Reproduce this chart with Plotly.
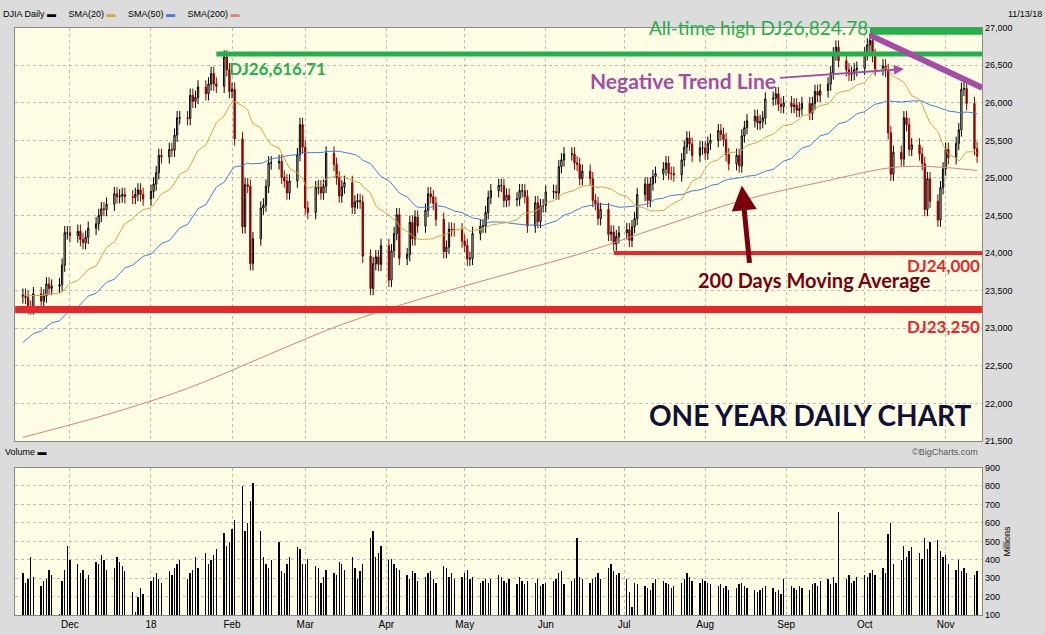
import pandas as pd, numpy as np
import plotly.graph_objects as go

pre = [21950,21990,21750,21800,21780,21800,22050,22120,22160,22200,22270,22330,22370,22410,22350,22300,22340,22380,22400,22420,
       22550,22640,22660,22770,22830,22870,22780,22840,22870,22960,22950,23160,23330,23270,23440,23400,23330,23380,23440,23350,
       23450,23520,23550,23430,23540,23570,23560,23460,23420,23420]
c_nov17 = [23440,23410,23280,23270,23460,23360,23430,23590,23530,23560,23580,23840,24270,24270]
c_dec = [24230,24290,24180,24140,24210,24330,24390,24500,24590,24580,24650,24790,24750,24760,24780,24750,24740,24780,24840,24780,24720]
c_jan = [24820,24920,25070,25300,25280,25380,25370,25570,25800,25800,25790,26100,26020,26070,26210,26120,26250,26390,26250,26220,26610,26440,26150]
c_feb = [26180,25520,24350,24910,24890,23860,24190,24600,24640,24890,25200,25200,25220,25010,24960,24800,24960,25310,25710,25410]
c_mar = [24600,24540,24870,24880,24800,24890,25330,25180,25000,24760,24880,24940,24610,24680,24700,24680,23960,23530,23860,23950,23850,24100]
c_apr = [23640,24030,24260,24510,23930,23980,24410,24190,24480,24360,24570,24790,24750,24660,24450,24020,24080,24320,24310,24310,24160]
c_may = [24100,23920,23930,24260,24360,24360,24540,24740,24830,24900,24900,24700,24770,24710,24720,24830,24830,24750,24360,24670,24420,24630,24630]
c_jun = [24810,24820,24800,25150,25240,25320,25320,25200,25180,24990,25090,24990,24700,24660,24460,24580,24250,24280,24120,24220,24270]
c_jul = [24310,24170,24350,24460,24780,24920,24700,24920,25020,25060,25120,25200,25060,25060,25040,25240,25410,25530,25450,25300,25400,25400]
c_aug = [25330,25460,25500,25630,25580,25510,25310,25190,25300,25160,25560,25670,25760,25820,25730,25750,25800,26050,26060,26120,25980,25950,26000]
c_sep = [25950,25970,25900,25920,25990,25860,25990,26150,26100,26160,26250,26400,26650,26740,26560,26440,26380,26390,26440,26460]
c_oct = [26650,26770,26830,26630,26450,26490,26430,25600,25050,25340,25250,25800,25710,25380,25440,25320,25190,24580,24990,24690,24440,24870,25120]
c_nov18 = [25380,25270,25460,25640,26180,26190,25990,25390,25290]

vol = [330,280,300,420,310,260,290,300,350,320,110,290,350,480,
       400,380,330,350,300,320,390,380,430,400,350,360,420,390,370,340,230,120,200,250,220,
       290,310,330,300,280,340,320,360,380,400,300,330,350,420,360,440,380,400,430,460,550,480,500,
       570,620,800,560,600,720,820,560,420,380,360,400,500,340,330,380,420,470,460,380,
       380,410,370,360,280,310,350,330,320,390,380,350,420,360,300,340,380,520,560,420,440,480,
       400,410,380,360,350,320,300,340,330,290,310,330,340,300,280,370,360,310,330,300,310,
       330,350,300,310,280,290,300,280,300,320,310,290,280,300,270,310,290,270,290,280,300,260,270,
       280,290,300,330,340,270,290,300,520,310,300,280,300,310,330,300,360,380,340,320,330,
       300,230,150,280,270,260,250,240,280,300,290,280,270,250,260,280,300,330,310,290,280,300,
       290,280,270,260,270,250,260,240,250,270,280,260,250,240,230,240,250,260,250,230,240,220,300,
       260,250,240,260,250,240,270,280,260,290,300,270,310,280,660,300,320,280,290,310,
       320,310,330,350,320,360,330,540,600,380,400,480,420,450,470,440,410,520,460,500,510,450,420,
       430,380,350,400,340,360,330,320,340]

sma200_dates = ["2017-11-13","2017-12-15","2018-01-15","2018-02-15","2018-03-15","2018-04-15","2018-05-15","2018-06-15","2018-07-15","2018-08-15","2018-09-15","2018-10-15","2018-11-13"]
sma200_vals = [21550,21850,22200,22650,23050,23400,23700,24000,24350,24700,24950,25150,25100]

month_ticks = ["2017-12-01","2018-01-01","2018-02-01","2018-03-01","2018-04-01","2018-05-01","2018-06-01","2018-07-01","2018-08-01","2018-09-01","2018-10-01","2018-11-01"]
month_labels = ["Dec","18","Feb","Mar","Apr","May","Jun","Jul","Aug","Sep","Oct","Nov"]

closes = c_nov17+c_dec+c_jan+c_feb+c_mar+c_apr+c_may+c_jun+c_jul+c_aug+c_sep+c_oct+c_nov18
dates = pd.bdate_range("2017-11-13","2018-11-13")
n = min(len(dates), len(closes))
dates = dates[:n]; closes = closes[:n]
full = pd.Series(pre+closes)
opens = [pre[-1]]+closes[:-1]
hi = [max(o,c)+90 for o,c in zip(opens,closes)]
lo = [min(o,c)-90 for o,c in zip(opens,closes)]
sma20 = full.rolling(20).mean().iloc[len(pre):].values
sma50 = full.rolling(50).mean().iloc[len(pre):].values
vn = min(len(vol), n)

fig = go.Figure()
fig.add_trace(go.Scatter(x=pd.to_datetime(sma200_dates), y=sma200_vals, mode="lines", line=dict(color="#d9827a", width=1, shape="spline"), xaxis="x", yaxis="y"))
fig.add_trace(go.Scatter(x=dates, y=sma50, mode="lines", line=dict(color="#3d7fe0", width=1), xaxis="x", yaxis="y"))
fig.add_trace(go.Scatter(x=dates, y=sma20, mode="lines", line=dict(color="#d9a441", width=1), xaxis="x", yaxis="y"))
fig.add_trace(go.Candlestick(x=dates, open=opens, high=hi, low=lo, close=closes,
    increasing=dict(line=dict(color="black", width=1), fillcolor="white"),
    decreasing=dict(line=dict(color="#8b0000", width=1), fillcolor="#a00000"),
    whiskerwidth=0, xaxis="x", yaxis="y"))
fig.add_trace(go.Bar(x=dates[:vn], y=vol[:vn], marker=dict(color="black", line=dict(width=0)), width=1000*3600*3, xaxis="x2", yaxis="y2"))

xr = ["2017-11-10","2018-11-15"]
grid = dict(showgrid=True, gridcolor="#bbbbbb", griddash="dot")
fig.update_layout(
    width=1045, height=635, margin=dict(l=0,r=0,t=0,b=0), showlegend=False,
    paper_bgcolor="#dcdcdc", plot_bgcolor="#fffde3", bargap=0,
    font=dict(family="Liberation Sans", size=10, color="black"),
    xaxis=dict(domain=[0.0144,0.94], range=xr, rangeslider=dict(visible=False), showticklabels=False,
               tickvals=pd.to_datetime(month_ticks), **grid, showline=True, linecolor="#888", mirror=True),
    yaxis=dict(domain=[0.3024,0.9638], range=[21500,27000], side="right", dtick=500, tickformat=",", **grid,
               showline=True, linecolor="#888", mirror=True, tickfont=dict(size=9)),
    xaxis2=dict(domain=[0.0144,0.94], range=xr, anchor="y2", tickvals=pd.to_datetime(month_ticks), ticktext=month_labels,
                **grid, showline=True, linecolor="#888", mirror=True, tickfont=dict(size=10)),
    yaxis2=dict(domain=[0.0236,0.26], range=[100,900], side="right", dtick=100, **grid, anchor="x2",
                showline=True, linecolor="#888", mirror=True, tickfont=dict(size=9),
                title=dict(text="Millions", font=dict(size=9), standoff=4)),
)
end = "2018-11-15"
shapes = [
    dict(type="line", xref="x", yref="y", x0="2018-01-26", x1=end, y0=26650, y1=26650, line=dict(color="#22b04b", width=5)),
    dict(type="line", xref="x", yref="y", x0="2018-10-03", x1=end, y0=26960, y1=26960, line=dict(color="#22b04b", width=8)),
    dict(type="line", xref="x", yref="y", x0="2017-11-10", x1=end, y0=23250, y1=23250, line=dict(color="#e8262b", width=7)),
    dict(type="line", xref="x", yref="y", x0="2018-06-27", x1=end, y0=24000, y1=24000, line=dict(color="#e8262b", width=4)),
    dict(type="line", xref="x", yref="y", x0="2018-10-03", x1=end, y0=26900, y1=26200, line=dict(color="#a64ca6", width=6)),
]
fig.update_layout(shapes=shapes)
ann = [
    dict(x=0.001, y=0.997, xref="paper", yref="paper", text="DJIA Daily <b>▬</b>     SMA(20) <span style='color:#d9a441'>▬</span>     SMA(50) <span style='color:#3d7fe0'>▬</span>     SMA(200) <span style='color:#d9827a'>▬</span>", showarrow=False, xanchor="left", yanchor="top", font=dict(size=9)),
    dict(x=0.999, y=0.997, xref="paper", yref="paper", text="11/13/18", showarrow=False, xanchor="right", yanchor="top", font=dict(size=9)),
    dict(x=0.003, y=0.285, xref="paper", yref="paper", text="Volume <b>▬</b>", showarrow=False, xanchor="left", yanchor="middle", font=dict(size=9)),
    dict(x=0.938, y=0.285, xref="paper", yref="paper", text="©BigCharts.com", showarrow=False, xanchor="right", yanchor="middle", font=dict(size=9, color="#555")),
    dict(x="2018-01-30", y=26450, xref="x", yref="y", text="<b>DJ26,616.71</b>", showarrow=False, xanchor="left", font=dict(size=17, color="#22b04b", family="Lato")),
    dict(x="2018-10-03", y=27000, xref="x", yref="y", text="All-time high DJ26,824.78", showarrow=False, xanchor="right", yanchor="middle", font=dict(size=19, color="#22b04b", family="Lato")),
    dict(x="2018-10-16", y=26450, xref="x", yref="y", ax="2018-08-29", ay=26330, axref="x", ayref="y", text="", showarrow=True, arrowhead=2, arrowwidth=2, arrowcolor="#a64ca6"),
    dict(x="2018-08-29", y=26300, xref="x", yref="y", text="<b>Negative Trend Line</b>", showarrow=False, xanchor="right", font=dict(size=21, color="#a64ca6", family="Lato")),
    dict(x="2018-08-15", y=24900, xref="x", yref="y", ax="2018-08-18", ay=23850, axref="x", ayref="y", text="", showarrow=True, arrowhead=2, arrowwidth=5, arrowcolor="#7a0010"),
    dict(x="2018-10-27", y=23640, xref="x", yref="y", text="<b>200 Days Moving Average</b>", showarrow=False, xanchor="right", font=dict(size=20, color="#7a0010", family="Lato")),
    dict(x="2018-11-15", y=23840, xref="x", yref="y", text="<b>DJ24,000</b>", showarrow=False, xanchor="right", font=dict(size=17, color="#e8262b", family="Lato")),
    dict(x="2018-11-15", y=23030, xref="x", yref="y", text="<b>DJ23,250</b>", showarrow=False, xanchor="right", font=dict(size=17, color="#e8262b", family="Lato")),
    dict(x="2018-11-12", y=21850, xref="x", yref="y", text="<b>ONE YEAR DAILY CHART</b>", showarrow=False, xanchor="right", font=dict(size=28, color="#10103a", family="Lato")),
]
fig.update_layout(annotations=ann)
fig.write_html("out.html", config={"displayModeBar": False})
with open("out.html") as f:
    h = f.read()
h = h.replace("<body>", "<body style=\"margin:0;overflow:hidden\">", 1)
with open("out.html", "w") as f:
    f.write(h)
